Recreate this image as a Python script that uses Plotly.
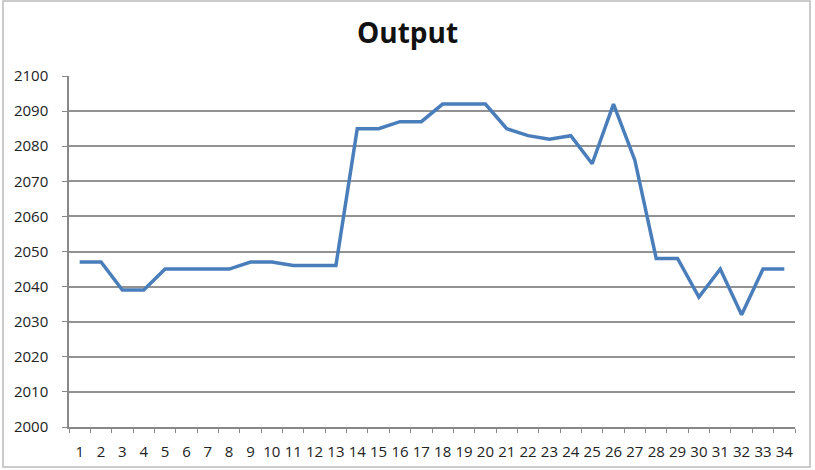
import plotly.graph_objects as go

categories = [str(i) for i in range(1, 35)]
output_values = [2047, 2047, 2039, 2039, 2045, 2045, 2045, 2045, 2047, 2047,
                 2046, 2046, 2046, 2085, 2085, 2087, 2087, 2092, 2092, 2092,
                 2085, 2083, 2082, 2083, 2075, 2092, 2076, 2048, 2048, 2037,
                 2045, 2032, 2045, 2045]
y_ticks = list(range(2000, 2101, 10))

W, H = 815, 470
ml, mr, mt, mb = 69, 20, 76, 43

fig = go.Figure()
fig.add_trace(go.Scatter(x=categories, y=output_values, mode="lines",
                         line=dict(color="#4A7EBB", width=3.5), showlegend=False))

pw = W - ml - mr
ph = H - mt - mb
fig.add_shape(type="rect", xref="paper", yref="paper",
              x0=(3 - ml) / pw, x1=(810 - ml) / pw,
              y0=-(467 - (H - mb)) / ph, y1=1 + (mt - 1) / ph,
              line=dict(color="#BBBBBB", width=1.5), layer="below")

fig.update_layout(
    width=W, height=H,
    margin=dict(l=ml, r=mr, t=mt, b=mb, autoexpand=False),
    paper_bgcolor="white", plot_bgcolor="white",
    title=dict(text="<b>Output</b>", x=0.5, xanchor="center", y=1 - 33 / H, yanchor="middle",
               xref="container", yref="container",
               font=dict(family="Open Sans", size=28, color="#111111")),
    font=dict(family="Open Sans", color="#222222", size=14),
)
fig.update_xaxes(type="category", range=[-0.5, len(categories) - 0.5],
                 tickson="boundaries", ticks="outside", ticklen=4,
                 tickcolor="#888888", showline=True, linecolor="#888888", linewidth=1.5,
                 showgrid=False, tickfont=dict(size=15, color="#222222"), tickangle=0,
                 automargin=False, ticklabelstandoff=10)
fig.update_yaxes(range=[2000, 2100], tickvals=y_ticks, ticks="outside", ticklen=5,
                 tickcolor="#888888", showline=True, linecolor="#888888", linewidth=1.5,
                 showgrid=True, gridcolor="#929292", gridwidth=1.5, zeroline=False,
                 automargin=False,
                 tickfont=dict(size=15, color="#222222"), ticklabelstandoff=11)

fig.write_html("out.html", config={"displayModeBar": False},
               post_script="document.body.style.margin='0';document.body.style.overflow='hidden';")
